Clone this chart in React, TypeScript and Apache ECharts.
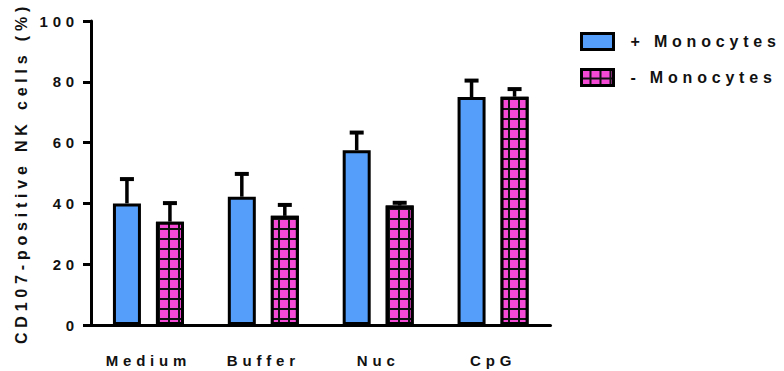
import React, { useEffect, useRef } from "react";
import * as echarts from "echarts";

const categories = ["Medium", "Buffer", "Nuc", "CpG"];
const plusMono = [40.0, 42.2, 57.5, 75.0];
const plusMonoErr = [8.0, 7.5, 5.8, 5.4];
const minusMono = [34.0, 35.9, 39.3, 75.1];
const minusMonoErr = [6.1, 3.6, 0.9, 2.5];
const yTicks = [0, 20, 40, 60, 80, 100];

const BLUE = "#559ffa";
const PINK = "#f54ad6";
const BAR_W = 28;
const BAR_GAP_PX = 15;

export default function App() {
  const ref = useRef<HTMLDivElement>(null);
  useEffect(() => {
    if (!ref.current) return;
    const chart = echarts.init(ref.current, undefined, { renderer: "svg" });
    const font = "Arial, 'Liberation Sans', sans-serif";
    const offset = (BAR_W + BAR_GAP_PX) / 2;
    const errSeries = (vals: number[], errs: number[], dir: number, name: string) => ({
      type: "custom",
      name: name + " err",
      z: 1,
      silent: true,
      data: vals.map((v, i) => [i, v, v + errs[i]]),
      renderItem: (params: any, api: any) => {
        const base = api.coord([api.value(0), api.value(1)]);
        const top = api.coord([api.value(0), api.value(2)]);
        const x = base[0] + dir * offset;
        const half = 7;
        return {
          type: "group",
          children: [
            {
              type: "line",
              shape: { x1: x, y1: base[1], x2: x, y2: top[1] },
              style: { stroke: "#000", lineWidth: 3.5 },
            },
            {
              type: "line",
              shape: { x1: x - half, y1: top[1], x2: x + half, y2: top[1] },
              style: { stroke: "#000", lineWidth: 4 },
            },
          ],
        };
      },
    });
    chart.setOption({
      animation: false,
      backgroundColor: "#fff",
      textStyle: { fontFamily: font },
      grid: { left: 91, right: 233.5, top: 21, bottom: 46, containLabel: false },
      legend: {
        orient: "vertical",
        left: 575,
        top: 27,
        padding: 5,
        itemWidth: 32,
        itemHeight: 16,
        itemGap: 17,
        icon: "rect",
        data: ["+ Monocytes", "- Monocytes"],
        itemStyle: { borderColor: "#000", borderWidth: 3 },
        textStyle: {
          fontFamily: font,
          fontWeight: "bold",
          fontSize: 16,
          color: "#111",
          padding: [0, 0, 0, 12],
        },
      },
      xAxis: {
        type: "category",
        data: categories,
        axisLine: { lineStyle: { color: "#000", width: 3 } },
        axisTick: { alignWithLabel: true, length: 7, lineStyle: { color: "#000", width: 3 } },
        axisLabel: {
          margin: 28,
          fontFamily: font,
          fontWeight: "bold",
          fontSize: 15,
          color: "#111",
        },
      },
      yAxis: {
        type: "value",
        min: 0,
        max: 100,
        interval: 20,
        name: "CD107-positive NK cells (%)",
        nameLocation: "middle",
        nameGap: 62,
        nameRotate: 90,
        nameTextStyle: { fontFamily: font, fontWeight: "bold", fontSize: 16, color: "#111" },
        splitLine: { show: false },
        axisLine: { show: true, lineStyle: { color: "#000", width: 3 } },
        axisTick: { show: true, length: 8, lineStyle: { color: "#000", width: 3 } },
        axisLabel: {
          margin: 12,
          fontFamily: font,
          fontWeight: "bold",
          fontSize: 15,
          color: "#111",
          formatter: (v: number) => (yTicks.includes(v) ? String(v) : ""),
        },
      },
      series: [
        {
          name: "+ Monocytes",
          type: "bar",
          barWidth: BAR_W,
          barGap: (BAR_GAP_PX / BAR_W) * 100 + "%",
          z: 2,
          data: plusMono,
          itemStyle: { color: BLUE, borderColor: "#000", borderWidth: 3 },
        },
        {
          name: "- Monocytes",
          type: "bar",
          barWidth: BAR_W,
          z: 2,
          data: minusMono,
          itemStyle: {
            color: "#111",
            borderColor: "#000",
            borderWidth: 3,
            decal: {
              symbol: "rect",
              symbolSize: 1,
              color: PINK,
              dashArrayX: [7.5, 1.6],
              dashArrayY: [7.5, 1.6],
              rotation: 0,
            },
          },
        },
        errSeries(plusMono, plusMonoErr, -1, "+ Monocytes"),
        errSeries(minusMono, minusMonoErr, 1, "- Monocytes"),
      ],
    });
    return () => chart.dispose();
  }, []);
  return (
    <>
      <style>{"body{margin:0} #root svg text{letter-spacing:4.8px}"}</style>
      <div ref={ref} style={{ width: 784, height: 371 }} />
    </>
  );
}
